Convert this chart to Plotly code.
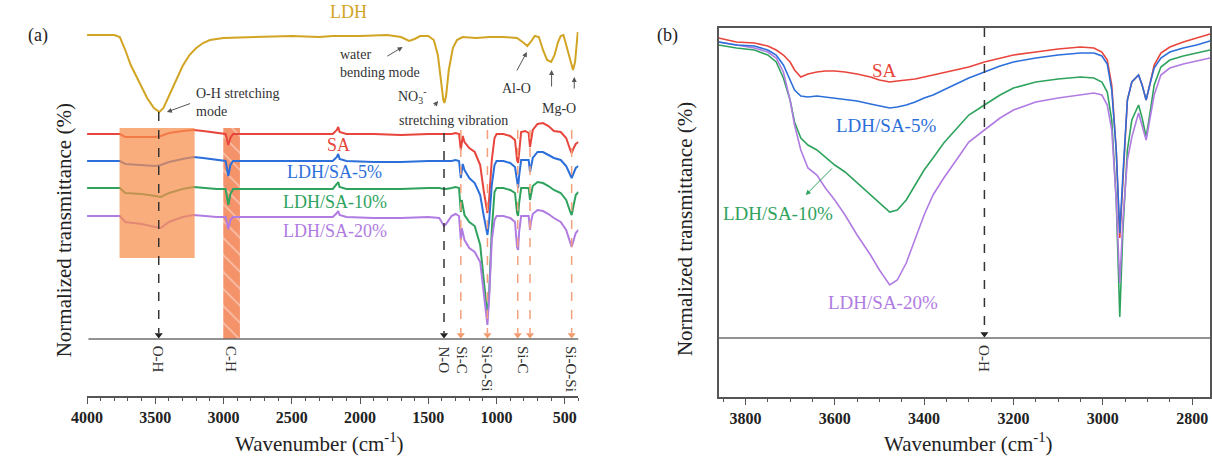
import plotly.graph_objects as go

# ---------------- Panel (a) data: wavenumber (cm-1) and normalized transmittance (a.u., offset) -------------
wn_ldh = [4000, 3900, 3800, 3760, 3720, 3680, 3620, 3560, 3510, 3470,
          3440, 3400, 3350, 3300, 3250, 3200, 3150, 3100, 3000, 2800,
          2500, 2300, 2200, 2000, 1800, 1700, 1640, 1600, 1560, 1500,
          1460, 1430, 1410, 1390, 1382, 1370, 1350, 1320, 1290, 1250,
          1150, 1050, 950, 850, 800, 775, 750, 720, 690, 660,
          630, 600, 575, 550, 530, 510, 480, 455, 440, 425,
          415, 405]
t_ldh = [361, 361, 361, 359, 346, 331, 314, 298, 288, 284,
         288, 300, 316, 330, 341, 348, 353, 356, 358, 359,
         360, 359, 360, 360, 361, 359, 355, 357, 360, 360,
         356, 341, 316, 296, 293, 300, 326, 348, 356, 359,
         358, 359, 359, 358, 353, 350, 354, 360, 359, 346,
         336, 334, 341, 354, 360, 361, 346, 332, 326, 334,
         354, 364]

wn_a = [4000, 3800, 3760, 3720, 3600, 3500, 3460, 3400, 3300, 3220,
        3150, 3050, 2985, 2965, 2950, 2930, 2800, 2500, 2200, 2170,
        2160, 2150, 2100, 1900, 1700, 1500, 1420, 1385, 1370, 1330,
        1300, 1275, 1262, 1255, 1248, 1235, 1200, 1160, 1120, 1095,
        1075, 1067, 1055, 1035, 1015, 1000, 950, 900, 865, 850,
        842, 835, 820, 790, 765, 755, 748, 735, 700, 660,
        620, 580, 530, 490, 460, 450, 435, 420, 400]
t_sa_a = [262, 262, 262, 259, 259, 259, 260, 263, 265, 266,
          265, 263, 262, 251, 258, 262, 262, 262, 262, 266,
          269, 264, 262, 262, 261, 262, 262, 262, 262, 262,
          263, 262, 246, 256, 260, 254, 248, 244, 231, 206,
          186, 183, 196, 236, 258, 262, 262, 260, 256, 236,
          233, 246, 264, 265, 263, 249, 256, 266, 272, 273,
          270, 265, 264, 258, 246, 243, 248, 252, 254]
t_5_a = [235, 235, 235, 232, 231, 230, 231, 234, 237, 239,
         238, 236, 235, 220, 231, 235, 235, 235, 235, 239,
         242, 237, 235, 234, 234, 235, 235, 235, 235, 235,
         236, 235, 218, 228, 232, 226, 218, 213, 201, 181,
         164, 161, 174, 211, 231, 235, 235, 233, 229, 211,
         208, 220, 236, 236, 236, 224, 230, 238, 244, 244,
         241, 238, 236, 230, 221, 218, 223, 228, 230]
t_10_a = [208, 208, 208, 203, 202, 200, 199, 203, 207, 209,
          208, 207, 207, 191, 202, 207, 207, 207, 207, 212,
          214, 209, 207, 207, 207, 208, 208, 207, 207, 208,
          209, 208, 184, 196, 191, 181, 174, 170, 151, 116,
          84, 80, 101, 166, 204, 208, 208, 206, 203, 183,
          180, 193, 208, 208, 208, 196, 202, 210, 214, 213,
          210, 206, 203, 196, 184, 181, 191, 201, 204]
t_20_a = [180, 180, 180, 174, 172, 169, 168, 174, 179, 181,
          180, 179, 179, 167, 176, 179, 179, 179, 179, 183,
          185, 181, 179, 178, 178, 179, 178, 170, 172, 180,
          182, 180, 156, 168, 164, 156, 148, 144, 134, 104,
          76, 71, 96, 156, 176, 180, 180, 178, 174, 149,
          146, 164, 180, 180, 180, 166, 174, 182, 186, 185,
          182, 178, 174, 166, 153, 149, 156, 163, 166]

# ---------------- Panel (b) data -------------
wn_b = [3860, 3820, 3780, 3750, 3731, 3715, 3700, 3690, 3676, 3660,
        3640, 3621, 3600, 3577, 3550, 3520, 3500, 3477, 3460, 3440,
        3420, 3400, 3380, 3356, 3320, 3300, 3265, 3230, 3200, 3150,
        3100, 3050, 3020, 3002, 2990, 2980, 2970, 2962, 2955, 2945,
        2935, 2920, 2912, 2903, 2895, 2885, 2870, 2850, 2820, 2790,
        2760]
t_sa_b = [359, 355, 354, 351, 347, 342, 335, 327, 320, 323,
          325, 326, 326, 325, 323, 320, 317, 315, 316, 317,
          318, 320, 322, 324, 328, 330, 335, 339, 342, 345,
          348, 350, 349, 345, 337, 312, 247, 159, 217, 297,
          315, 322, 312, 297, 312, 332, 344, 350, 355, 359,
          363]
t_5_b = [355, 352, 351, 347, 342, 332, 317, 307, 301, 300,
         301, 300, 299, 298, 296, 293, 291, 289, 290, 292,
         295, 299, 302, 307, 315, 319, 325, 331, 335, 339,
         342, 344, 344, 341, 333, 307, 247, 164, 222, 297,
         315, 322, 312, 297, 312, 329, 339, 345, 349, 352,
         356]
t_10_b = [352, 349, 347, 342, 335, 319, 297, 275, 259, 252,
          247, 240, 232, 225, 214, 202, 194, 185, 187, 197,
          212, 227, 239, 254, 272, 282, 292, 302, 309, 315,
          318, 320, 319, 315, 305, 277, 197, 80, 167, 247,
          277, 292, 279, 260, 282, 312, 330, 337, 341, 344,
          347]
t_20_b = [355, 352, 349, 345, 339, 325, 297, 272, 247, 229,
          222, 209, 197, 182, 162, 142, 127, 112, 117, 134,
          157, 182, 202, 219, 242, 255, 267, 279, 287, 295,
          299, 302, 304, 302, 292, 267, 197, 114, 177, 237,
          260, 284, 272, 257, 277, 302, 322, 329, 333, 336,
          339]

series_names = ["SA", "LDH/SA-5%", "LDH/SA-10%", "LDH/SA-20%"]
series_colors = ["#E8453C", "#2C6FDA", "#2FA35E", "#B07CE2"]
ldh_color = "#D2A424"

# band markers (panel a)
black_bands_a = [3475, 1385]
black_band_tops_a = [284, 263]
orange_bands_a = [1262, 1067, 845, 755, 450]
orange_band_top_a = 266
band_labels_a = ["O-H", "C-H", "N-O", "Si-C", "Si-O-Si", "Si-C", "Si-O-Si"]
band_label_pos_a = [3475, 2945, 1385, 1255, 1067, 806, 455]
baseline_a = 57
band_b = 3265
baseline_b = 59

FONT = "Liberation Serif"
W, H = 1212, 458


def px(x):
    return x / W


def py(y):
    return 1 - y / H


fig = go.Figure()

# C-H band (hatched bar, behind curves)
fig.add_trace(go.Bar(x=[2941], y=[268 - baseline_a], base=[baseline_a], width=[122],
                     marker=dict(color="#F4926A", line=dict(width=0),
                                 pattern=dict(shape="\\", fgcolor="white", size=12, solidity=0.12)),
                     xaxis="x", yaxis="y", showlegend=False, hoverinfo="skip"))

# panel a curves
fig.add_trace(go.Scatter(x=wn_ldh, y=t_ldh, mode="lines", line=dict(color=ldh_color, width=2),
                         xaxis="x", yaxis="y", showlegend=False))
for ys, c in zip([t_sa_a, t_5_a, t_10_a, t_20_a], series_colors):
    fig.add_trace(go.Scatter(x=wn_a, y=ys, mode="lines", line=dict(color=c, width=2),
                             xaxis="x", yaxis="y", showlegend=False))

# panel b curves
for ys, c in zip([t_10_b, t_20_b, t_sa_b, t_5_b], [series_colors[2], series_colors[3], series_colors[0], series_colors[1]]):
    fig.add_trace(go.Scatter(x=wn_b, y=ys, mode="lines", line=dict(color=c, width=1.6),
                             xaxis="x2", yaxis="y2", showlegend=False))

shapes = []
# orange box for O-H region
shapes.append(dict(type="rect", xref="x", yref="y", x0=3762, x1=3212, y0=138, y1=268,
                   fillcolor="rgb(246,142,75)", opacity=0.72, line=dict(width=0), layer="above"))
# baselines
shapes.append(dict(type="line", xref="x", yref="y", x0=3990, x1=400, y0=baseline_a, y1=baseline_a,
                   line=dict(color="#6E6E6E", width=1.5)))
shapes.append(dict(type="line", xref="x2", yref="y2", x0=3860, x1=2760, y0=baseline_b, y1=baseline_b,
                   line=dict(color="#6E6E6E", width=1.5)))
# dashed guides
for xb, yt in zip(black_bands_a, black_band_tops_a):
    shapes.append(dict(type="line", xref="x", yref="y", x0=xb, x1=xb, y0=yt, y1=baseline_a + 6,
                       line=dict(color="#333333", width=1.5, dash="dash")))
for xb in orange_bands_a:
    shapes.append(dict(type="line", xref="x", yref="y", x0=xb, x1=xb, y0=orange_band_top_a, y1=baseline_a + 6,
                       line=dict(color="#F5A07C", width=1.5, dash="dash")))
shapes.append(dict(type="line", xref="x2", yref="y2", x0=band_b, x1=band_b, y0=369, y1=baseline_b + 6,
                   line=dict(color="#333333", width=1.5, dash="dash")))

# arrowhead markers
fig.add_trace(go.Scatter(x=black_bands_a, y=[baseline_a + 4] * len(black_bands_a), mode="markers",
                         marker=dict(symbol="triangle-down", size=7, color="#222222"),
                         xaxis="x", yaxis="y", showlegend=False, hoverinfo="skip"))
fig.add_trace(go.Scatter(x=orange_bands_a, y=[baseline_a + 4] * len(orange_bands_a), mode="markers",
                         marker=dict(symbol="triangle-down", size=7, color="#F29A6E"),
                         xaxis="x", yaxis="y", showlegend=False, hoverinfo="skip"))
fig.add_trace(go.Scatter(x=[band_b], y=[baseline_b + 4], mode="markers",
                         marker=dict(symbol="triangle-down", size=7, color="#222222"),
                         xaxis="x2", yaxis="y2", showlegend=False, hoverinfo="skip"))

ann = []
# band labels under baseline
bl_font = dict(family=FONT, size=15, color="#333333")
for lab, xpos in zip(band_labels_a, band_label_pos_a):
    ann.append(dict(x=xpos, y=baseline_a - 5, xref="x", yref="y", text=lab, textangle=90,
                    showarrow=False, yanchor="top", xanchor="center", font=bl_font))
ann.append(dict(x=band_b, y=baseline_b - 5, xref="x2", yref="y2", text="O-H", textangle=90,
                showarrow=False, yanchor="top", xanchor="center", font=bl_font))

# series labels (a)
ann.append(dict(x=2085, y=384, xref="x", yref="y", text="LDH", showarrow=False,
                font=dict(family=FONT, size=18, color=ldh_color)))
lab_pos_a = [(2158, 251), (2187, 224), (2187, 194), (2187, 165)]
for name, c, (xx, yy) in zip(series_names, series_colors, lab_pos_a):
    ann.append(dict(x=xx, y=yy, xref="x", yref="y", text=name, showarrow=False,
                    font=dict(family=FONT, size=18, color=c)))
# series labels (b)
lab_pos_b = [(3488, 327), (3486, 272), (3727, 184), (3493, 95)]
for name, c, (xx, yy) in zip(series_names, series_colors, lab_pos_b):
    ann.append(dict(x=xx, y=yy, xref="x2", yref="y2", text=name, showarrow=False,
                    font=dict(family=FONT, size=19, color=c)))
# green arrow (b)
ann.append(dict(x=3665, y=202, ax=3603, ay=230, xref="x2", yref="y2", axref="x2", ayref="y2",
                text="", showarrow=True, arrowhead=2, arrowsize=1, arrowwidth=1, arrowcolor=series_colors[2]))

# annotation texts (a)
af = dict(family=FONT, size=14, color="#333333")
ann.append(dict(x=3220, y=294, xref="x", yref="y", text="O-H stretching<br>mode", showarrow=False,
                xanchor="left", align="left", font=af))
ann.append(dict(x=2158, y=333, xref="x", yref="y", text="water<br>bending mode", showarrow=False,
                xanchor="left", align="left", font=af))
ann.append(dict(x=1623, y=300, xref="x", yref="y", text="NO<sub>3</sub><sup>-</sup>", showarrow=False,
                font=af))
ann.append(dict(x=1312, y=276, xref="x", yref="y", text="stretching vibration", showarrow=False, font=af))
ann.append(dict(x=857, y=308, xref="x", yref="y", text="Al-O", showarrow=False, font=af))
ann.append(dict(x=546, y=288, xref="x", yref="y", text="Mg-O", showarrow=False, font=af))
arrows_a = [((3415, 284), (3234, 293)), ((1688, 349), (1811, 339)), ((1428, 295), (1464, 289)),
            ((778, 344), (857, 324)), ((597, 326), (597, 308)), ((431, 319), (431, 306))]
for (hx, hy), (tx, ty) in arrows_a:
    ann.append(dict(x=hx, y=hy, ax=tx, ay=ty, xref="x", yref="y", axref="x", ayref="y",
                    text="", showarrow=True, arrowhead=2, arrowsize=1, arrowwidth=1, arrowcolor="#555555"))

# panel letters & axis titles
tf = dict(family=FONT, size=21, color="#222222")


def paper_text(x, y, text, font, angle=0):
    return dict(x=px(x), y=py(y), xref="paper", yref="paper", text=text, textangle=angle,
                showarrow=False, xanchor="center", yanchor="middle", font=font)


ann.append(paper_text(22, 35, "(a)", dict(family=FONT, size=18, color="#222222")))
ann.append(paper_text(660, 36, "(b)", dict(family=FONT, size=18, color="#222222")))
ann.append(paper_text(49, 230, "Normalized transmittance (%)", tf, -90))
ann.append(paper_text(678, 229, "Normalized transmittance (%)", tf, -90))
ann.append(paper_text(308, 442, "Wavenumber (cm<sup>-1</sup>)", tf))
ann.append(paper_text(965, 442, "Wavenumber (cm<sup>-1</sup>)", tf))

tickfont = dict(family=FONT, size=16, color="#222222", weight="bold")
fig.update_layout(
    width=W, height=H, margin=dict(l=0, r=0, t=0, b=0),
    paper_bgcolor="white", plot_bgcolor="white",
    shapes=shapes, annotations=ann, barmode="overlay",
    xaxis=dict(domain=[px(72), px(570)], range=[4000, 400], anchor="y",
               showline=True, linecolor="#555555", linewidth=1.5,
               ticks="outside", ticklen=6, tickwidth=1.3, tickcolor="#555555",
               tick0=500, dtick=500, tickfont=tickfont, showgrid=False, zeroline=False,
               minor=dict(dtick=100, ticks="outside", ticklen=3, tickcolor="#555555", showgrid=False)),
    yaxis=dict(domain=[py(396), 1.0], range=[0, 396], visible=False, fixedrange=True),
    xaxis2=dict(domain=[px(712), px(1210)], range=[3860, 2760], anchor="y2",
                showline=True, mirror=True, linecolor="#555555", linewidth=1.5,
                ticks="outside", ticklen=6, tickwidth=1.3, tickcolor="#555555",
                tick0=2800, dtick=200, tickfont=tickfont, showgrid=False, zeroline=False,
                minor=dict(dtick=50, ticks="outside", ticklen=3, tickcolor="#555555", showgrid=False)),
    yaxis2=dict(domain=[py(397), py(28)], range=[0, 369], anchor="x2",
                showline=True, mirror=True, linecolor="#555555", linewidth=1.5,
                showticklabels=False, ticks="", showgrid=False, zeroline=False),
)

fig.write_html("out.html")
